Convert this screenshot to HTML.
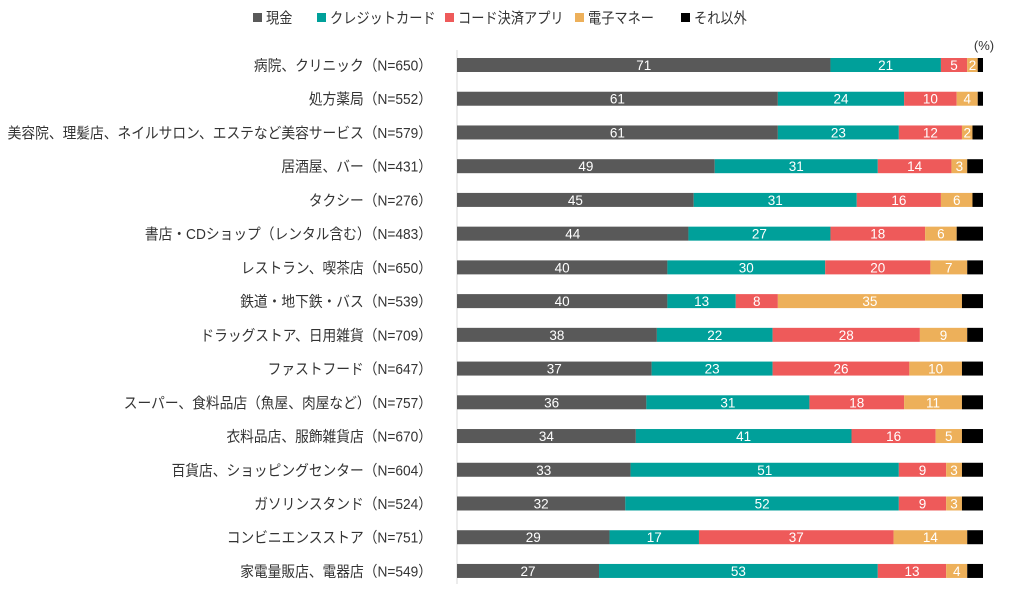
<!DOCTYPE html>
<html><head><meta charset="utf-8"><style>
body{margin:0;background:#fff;width:1009px;height:598px;overflow:hidden;font-family:"Liberation Sans","Noto Sans CJK JP",sans-serif}
svg text{font-family:"Liberation Sans","Noto Sans CJK JP",sans-serif}
</style></head><body>
<svg id="chart" width="1009" height="598"></svg>
<script>
const categories=["病院、クリニック（N=650）","処方薬局（N=552）","美容院、理髪店、ネイルサロン、エステなど美容サービス（N=579）","居酒屋、バー（N=431）","タクシー（N=276）","書店・CDショップ（レンタル含む）（N=483）","レストラン、喫茶店（N=650）","鉄道・地下鉄・バス（N=539）","ドラッグストア、日用雑貨（N=709）","ファストフード（N=647）","スーパー、食料品店（魚屋、肉屋など）（N=757）","衣料品店、服飾雑貨店（N=670）","百貨店、ショッピングセンター（N=604）","ガソリンスタンド（N=524）","コンビニエンスストア（N=751）","家電量販店、電器店（N=549）"];
const cash=[71,61,61,49,45,44,40,40,38,37,36,34,33,32,29,27];
const credit=[21,24,23,31,31,27,30,13,22,23,31,41,51,52,17,53];
const codePay=[5,10,12,14,16,18,20,8,28,26,18,16,9,9,37,13];
const emoney=[2,4,2,3,6,6,7,35,9,10,11,5,3,3,14,4];
const other=[1,1,2,3,2,5,3,4,3,4,4,4,4,4,3,3];
const seriesNames=["現金","クレジットカード","コード決済アプリ","電子マネー","それ以外"];
const NS="http://www.w3.org/2000/svg";
const svg=document.getElementById('chart');
const colors=["#595959","#00A09A","#EE5A5A","#EDB05A","#000000"];
const x0=457,x1=983,top0=65,step=33.73,bh=14;
const squeeze=0.915;
function xs(v){return v*(x1-x0)/100;}
function yc(i){return top0+i*step;}
function mk(t,a){const e=document.createElementNS(NS,t);for(const k in a)e.setAttribute(k,a[k]);svg.appendChild(e);return e;}
function fit(t,s){const w=t.getComputedTextLength();t.setAttribute('textLength',w*s);t.setAttribute('lengthAdjust','spacingAndGlyphs');}
// legend
const lx=[253,317,445,575,681];
seriesNames.forEach((n,i)=>{
 const r=mk('rect',{x:lx[i],y:13,width:9,height:9,fill:colors[i]});
 
 
 const t=mk('text',{x:lx[i]+13,y:23,'font-size':15,fill:'#333'});t.textContent=n;
 
 
 fit(t,0.88);
});
const u=mk('text',{x:984,y:50,'font-size':13,fill:'#333','text-anchor':'middle'});u.textContent="(%)";


const ax=mk('line',{x1:x0,x2:x0,y1:50,y2:584,stroke:'#d9d9d9','stroke-width':1});


const series=[cash,credit,codePay,emoney,other];
categories.forEach((c,i)=>{
 const y=yc(i);
 const t=mk('text',{x:432,y:y+5.5,'font-size':15,fill:'#333','text-anchor':'end'});t.textContent=c;
 
 
 fit(t,squeeze);
 let acc=0;
 series.forEach((s,j)=>{
  const v=s[i];
  const r=mk('rect',{x:x0+xs(acc),y:y-bh/2,width:xs(v),height:bh,fill:colors[j]});
  
  
  if(j<4){
   const l=mk('text',{x:x0+xs(acc+v/2),y:y+5,'font-size':13.5,fill:'#fff','text-anchor':'middle'});
   l.textContent=v;
   
   
  }
  acc+=v;
 });
});
</script>
</body></html>
